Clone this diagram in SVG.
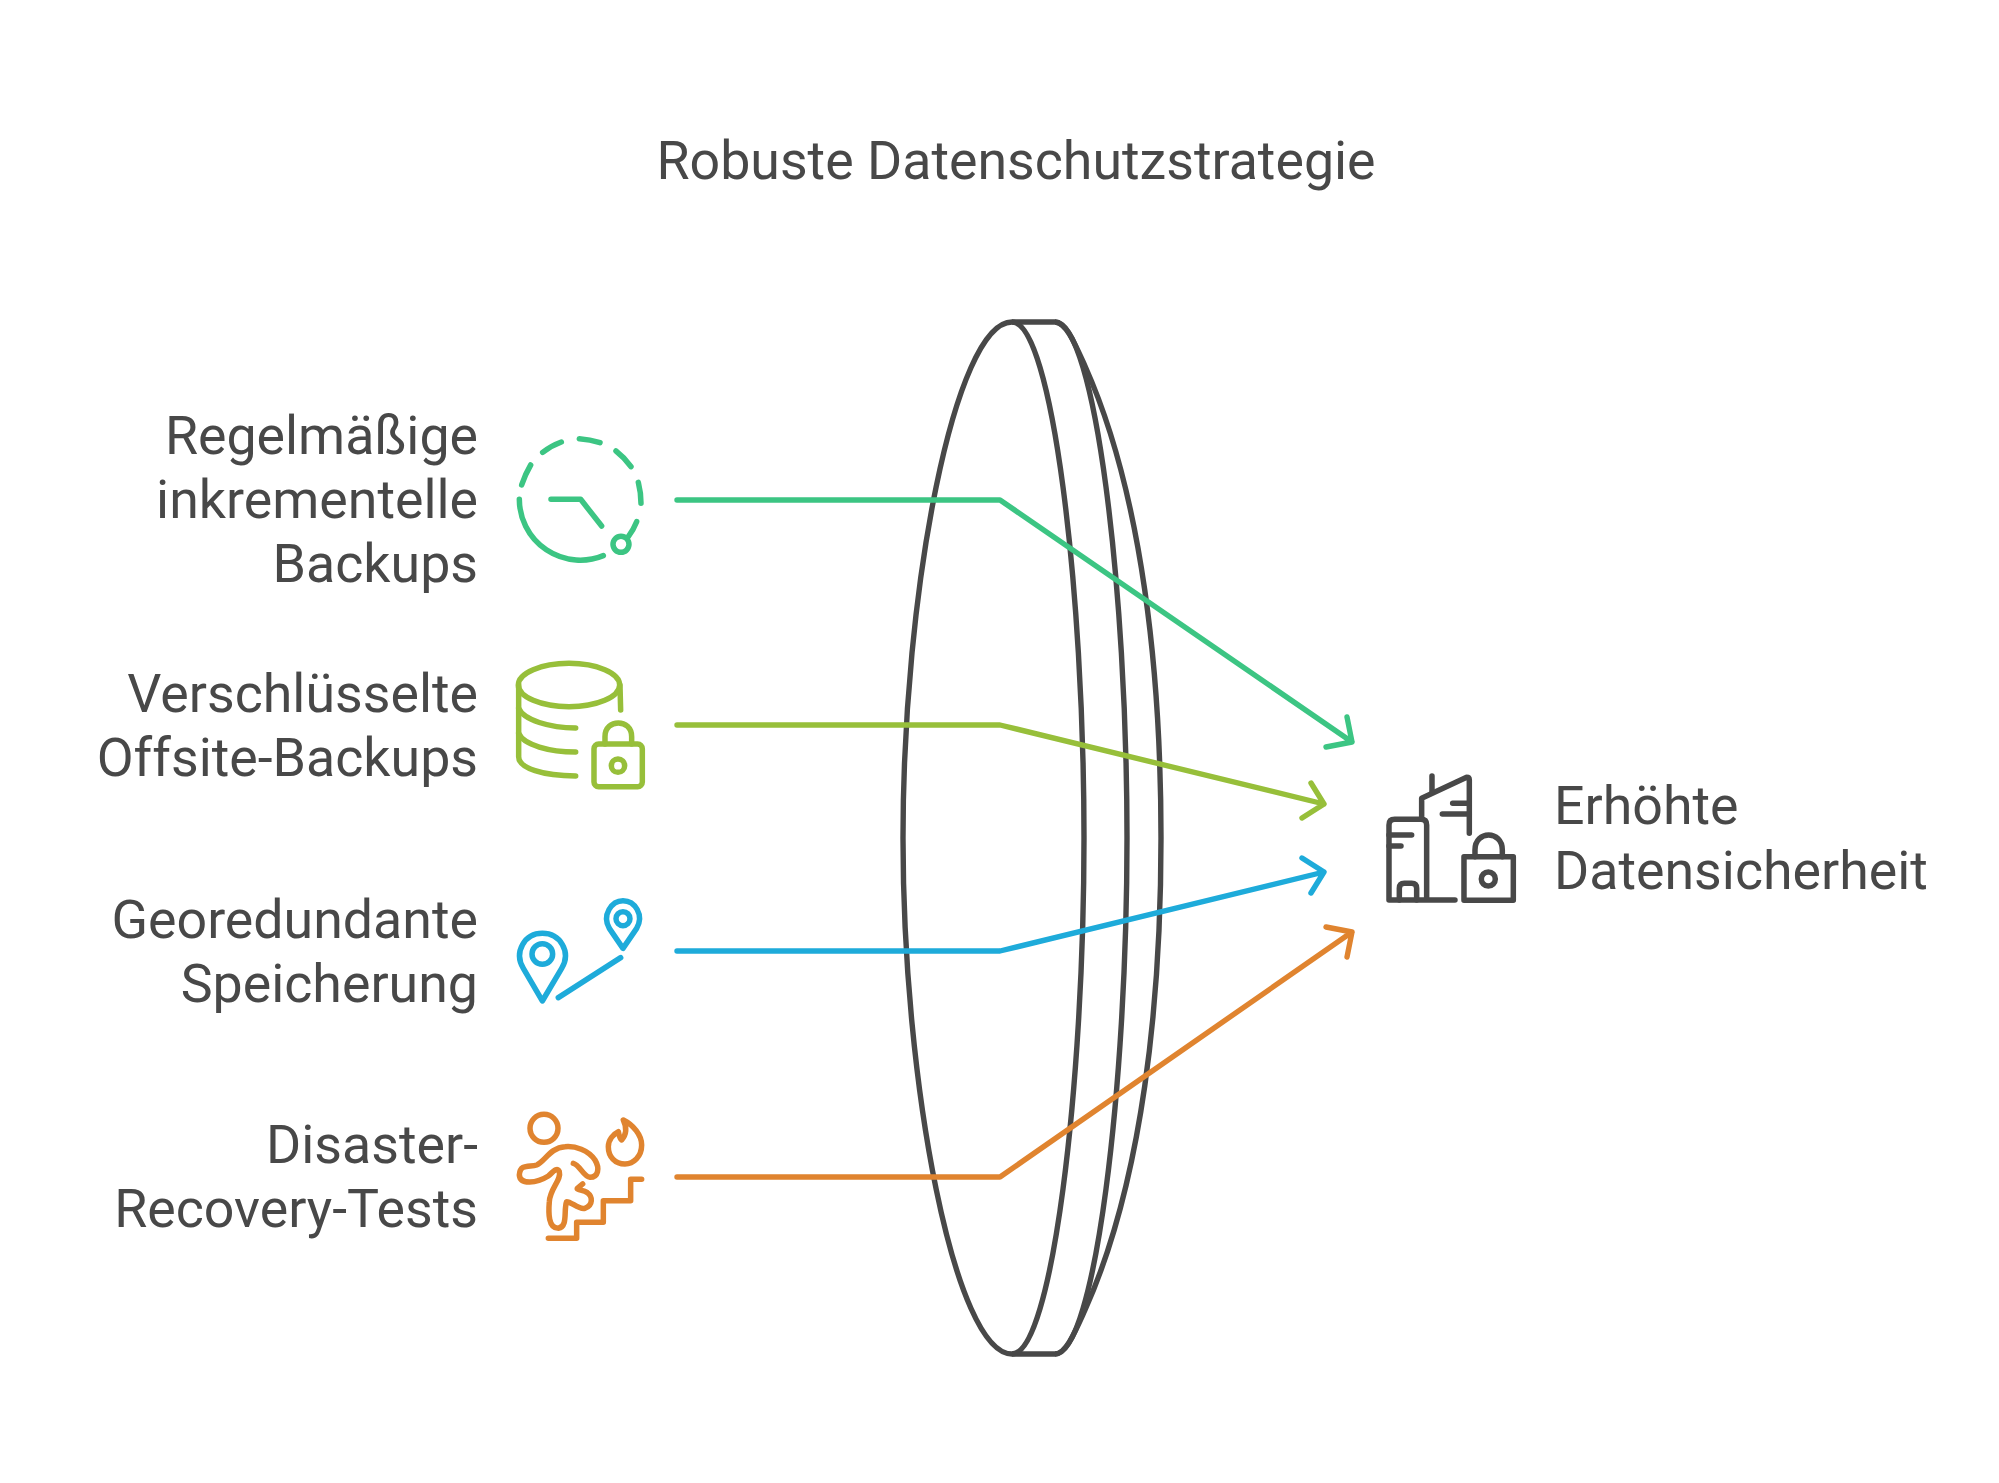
<svg xmlns="http://www.w3.org/2000/svg" width="1999" height="1483" viewBox="0 0 1999 1483">
<style>
text{font-family:Roboto,"Liberation Sans",sans-serif;font-size:53.7px;fill:#484848}
.r{text-anchor:end}
.i{fill:none;stroke-width:16.5;stroke-linecap:round;stroke-linejoin:round}
.c{fill:none;stroke-width:5.4;stroke-linecap:round;stroke-linejoin:round}
.lens{fill:none;stroke:#484848;stroke-width:5.4}
.g{stroke:#3cc583}.l{stroke:#97bf3a}.b{stroke:#1eabda}.o{stroke:#e0842f}.d{stroke:#484848}
</style>
<rect width="1999" height="1483" fill="#fff"/>
<text id="title" x="1016" y="179" text-anchor="middle">Robuste Datenschutzstrategie</text>
<g id="lens" class="lens">
<path d="M1055 322H1012C955 322 903 590 903 838C903 1086 955 1354 1012 1354H1055"/>
<path d="M1012 322C1052 322 1084 590 1084 838C1084 1086 1052 1354 1012 1354"/>
<path d="M1055 322C1095 322 1127 590 1127 838C1127 1086 1095 1354 1055 1354"/>
<path d="M1055 322C1066 322 1075 344 1085 366C1143 496 1161 676 1161 838C1161 1000 1143 1180 1085 1310C1075 1332 1066 1354 1055 1354"/>
</g>
<g id="connectors">
<path class="c g" d="M677 500H1000L1352 742M1347 717L1352 742L1326 747"/>
<path class="c l" d="M677 725H1000L1324 804M1311 783L1324 804L1302 818"/>
<path class="c b" d="M677 951H1000L1324 872M1302 858L1324 872L1311 893"/>
<path class="c o" d="M677 1177H1000L1352 932M1326 927L1352 932L1347 957"/>
</g>
<g id="node-backups">
<text class="r" x="478" y="454">Regelmäßige</text>
<text class="r" x="478" y="518">inkrementelle</text>
<text class="r" x="478" y="582">Backups</text>
<g class="i g" transform="translate(500 420) scale(.3333)">
<path d="M58 238A183 183 0 0 0 310 407"/>
<path d="M65 195Q76 162 92 135"/><path d="M128 97Q154 77 184 66"/><path d="M238 56Q270 58 300 68"/><path d="M348 93Q374 113 393 140"/><path d="M415 187Q423 218 423 250"/><path d="M410 305Q400 330 385 350"/>
<circle cx="363" cy="373" r="24"/>
<path d="M153 238H242L305 318"/>
</g>
</g>
<g id="node-offsite">
<text class="r" x="478" y="712">Verschlüsselte</text>
<text class="r" x="478" y="776">Offsite-Backups</text>
<g class="i l" transform="translate(500 420) scale(.3333)">
<ellipse cx="207" cy="795" rx="152" ry="65"/>
<path d="M360 795L362 870"/>
<path d="M56 795V1010C56 1045 130 1068 227 1068"/>
<path d="M56 865C70 900 150 924 227 924"/>
<path d="M56 940C70 975 150 996 227 996"/>
<rect x="282" y="972" width="145" height="128" rx="14"/>
<path d="M315 972V950C315 895 395 895 395 950V972"/>
<circle cx="354" cy="1037" r="20"/>
</g>
</g>
<g id="node-geo">
<text class="r" x="478" y="938">Georedundante</text>
<text class="r" x="478" y="1002">Speicherung</text>
<g class="i b" transform="translate(500 880) scale(.3333)">
<path d="M127 363L70 265C40 215 75 160 127 160C180 160 215 215 185 265Z"/>
<circle cx="127" cy="222" r="31"/>
<path d="M369 205L328 145C305 105 335 62 369 62C405 62 433 105 410 145Z"/>
<circle cx="369" cy="116" r="21"/>
<path d="M175 353L362 233"/>
</g>
</g>
<g id="node-tests">
<text class="r" x="478" y="1163">Disaster-</text>
<text class="r" x="478" y="1227">Recovery-Tests</text>
<g class="i o" transform="translate(500 880) scale(.3333)">
<circle cx="132" cy="745" r="42"/>
<path d="M370 720C400 735 425 765 425 795C425 830 400 852 375 852C345 852 325 830 325 800C325 780 340 762 355 755C358 770 362 778 365 780C378 765 382 745 370 720Z"/>
<path d="M220 850C240 855 250 890 270 892C295 892 300 865 285 840C265 810 225 797 195 800C150 803 135 845 110 855C90 862 60 850 58 885C60 915 110 910 145 888C160 875 172 860 178 875C185 900 150 925 148 965C145 1000 145 1045 175 1045C205 1040 190 990 200 965C215 965 235 990 255 985C280 975 278 950 262 938C250 930 230 930 232 925L248 912"/>
<path d="M145 1075H230V1027H310V962H392V898H425"/>
</g>
</g>
<g id="node-result">
<text x="1554" y="824">Erhöhte</text>
<text x="1554" y="889">Datensicherheit</text>
<g class="i d" transform="translate(1300 700) scale(.3333)">
<path d="M465 600H267V375Q267 358 284 358H363Q380 358 380 375V600"/>
<path d="M267 405H335M267 438H303"/>
<path d="M298 600V565Q298 550 313 550H335Q350 550 350 565V600"/>
<path d="M365 350V295L500 232Q508 232 508 240V400"/>
<path d="M396 228V275M458 310H508M427 342H508"/>
<rect x="492" y="470" width="148" height="131"/>
<path d="M525 470V450C525 390 607 390 607 450V470"/>
<circle cx="565" cy="537" r="21"/>
</g>
</g>
</svg>
